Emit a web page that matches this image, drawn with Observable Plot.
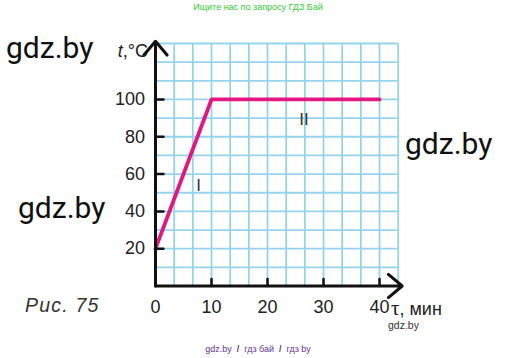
<!DOCTYPE html>
<html>
<head>
<meta charset="utf-8">
<script src="https://cdn.jsdelivr.net/npm/d3@7"></script>
<script src="https://cdn.jsdelivr.net/npm/@observablehq/plot@0.6"></script>
<style>
  html, body { margin: 0; padding: 0; background: #fff; }
  #wrap { position: relative; width: 516px; height: 358px; overflow: hidden; font-family: "Liberation Sans", Arial, sans-serif; }
  #wrap svg { position: absolute; left: 0; top: 0; }
  .ov { position: absolute; white-space: nowrap; line-height: 1; }
  .wm { font-family: Roboto, "Liberation Sans", sans-serif; font-size: 30px; color: #111; }
</style>
</head>
<body>
<div id="wrap"></div>
<script>
// Data: heating curve (time in minutes, temperature in °C)
const time = [0, 10, 40];
const temp = [20, 100, 100];
const xTicks = [0, 10, 20, 30, 40];
const yTicks = [20, 40, 60, 80, 100];
const xTickMarks = [10, 20, 30, 40];
const gridX = [0, 10/3, 20/3, 10, 40/3, 50/3, 20, 70/3, 80/3, 30, 100/3, 110/3, 40, 130/3];
const gridY = [0, 10, 20, 30, 40, 50, 60, 70, 80, 90, 100, 110, 120, 130];
const phaseNames = ["I", "II"];
const phaseX = [7.7, 26.5];
const phaseY = [54, 89];
const axisEndX = 44.05;
const axisEndY = 131.2;

const curve = time.map((t, i) => ({t, v: temp[i]}));
const phases = phaseNames.map((n, i) => ({n, x: phaseX[i], y: phaseY[i]}));

const tickShape = { draw(context, l) { context.moveTo(0, 0); context.lineTo(0, -l); } };

const chart = Plot.plot({
  width: 516,
  height: 358,
  marginLeft: 155,
  marginRight: 118.3,
  marginTop: 43,
  marginBottom: 72.5,
  x: {domain: [0, 130/3]},
  y: {domain: [0, 130]},
  style: {background: "transparent", fontFamily: "'Liberation Sans', Arial, sans-serif", fontSize: "18px", color: "#222"},
  marks: [
    Plot.ruleX(gridX, {x: d => d, y1: 0, y2: 130, stroke: "#96d4ee", strokeWidth: 1.8}),
    Plot.ruleY(gridY, {y: d => d, x1: 0, x2: 130/3, stroke: "#96d4ee", strokeWidth: 1.8}),
    Plot.line(curve, {x: "t", y: "v", stroke: "#e2177f", strokeWidth: 3.8, strokeLinejoin: "miter"}),
    Plot.arrow([{x1: 0, y1: 0, x2: 0, y2: axisEndY}], {x1: "x1", y1: "y1", x2: "x2", y2: "y2", stroke: "#111", strokeWidth: 3, headLength: 9, headAngle: 80}),
    Plot.arrow([{x1: 0, y1: 0, x2: axisEndX, y2: 0}], {x1: "x1", y1: "y1", x2: "x2", y2: "y2", stroke: "#111", strokeWidth: 3, headLength: 9, headAngle: 80}),
    Plot.vector(yTicks, {x: 0, y: d => d, length: 8, rotate: 90, anchor: "start", shape: tickShape, stroke: "#111", strokeWidth: 2.5}),
    Plot.vector(xTickMarks, {x: d => d, y: 0, length: 7, rotate: 0, anchor: "start", shape: tickShape, stroke: "#111", strokeWidth: 2.5}),
    Plot.axisY({ticks: yTicks, tickSize: 0, tickPadding: 10.5, label: null, fontSize: 18}),
    Plot.axisX({ticks: xTicks, tickSize: 0, tickPadding: 14.5, label: null, fontSize: 18}),
    Plot.text(phases, {x: "x", y: "y", text: "n", fontSize: 17, fill: "#333", fontWeight: 300})
  ]
});

const wrap = document.getElementById("wrap");
wrap.appendChild(chart);

function overlay(html, css, cls) {
  const d = document.createElement("div");
  d.className = "ov" + (cls ? " " + cls : "");
  d.innerHTML = html;
  Object.assign(d.style, css);
  wrap.appendChild(d);
  return d;
}

// axis labels
overlay("<i>t</i>,°C", {right: (516 - 148) + "px", top: "42px", fontSize: "18px", color: "#222"});
overlay("<span style=\"font-family:'Liberation Serif',serif;font-size:21px\">τ</span>, мин", {left: "391px", top: "298px", fontSize: "18px", color: "#222"});
// figure caption
overlay("Рис. 75", {left: "25px", top: "296px", fontSize: "19.5px", fontStyle: "italic", color: "#333", letterSpacing: "1.2px"});
// watermarks
overlay("gdz.by", {left: "6px", top: "33px"}, "wm");
overlay("gdz.by", {left: "18px", top: "193px"}, "wm");
overlay("gdz.by", {left: "405px", top: "129px"}, "wm");
overlay("gdz.by", {left: "388px", top: "320px", fontSize: "10.5px", color: "#333"});
overlay("Ищите нас по запросу ГДЗ Бай", {left: "0", width: "516px", textAlign: "center", top: "3px", fontSize: "9px", color: "#33cc33"});
overlay("gdz.by &nbsp;<b>/</b>&nbsp; гдз бай &nbsp;<b>/</b>&nbsp; гдз by", {left: "0", width: "516px", textAlign: "center", top: "345px", fontSize: "9px", color: "#663399"});
</script>
</body>
</html>
